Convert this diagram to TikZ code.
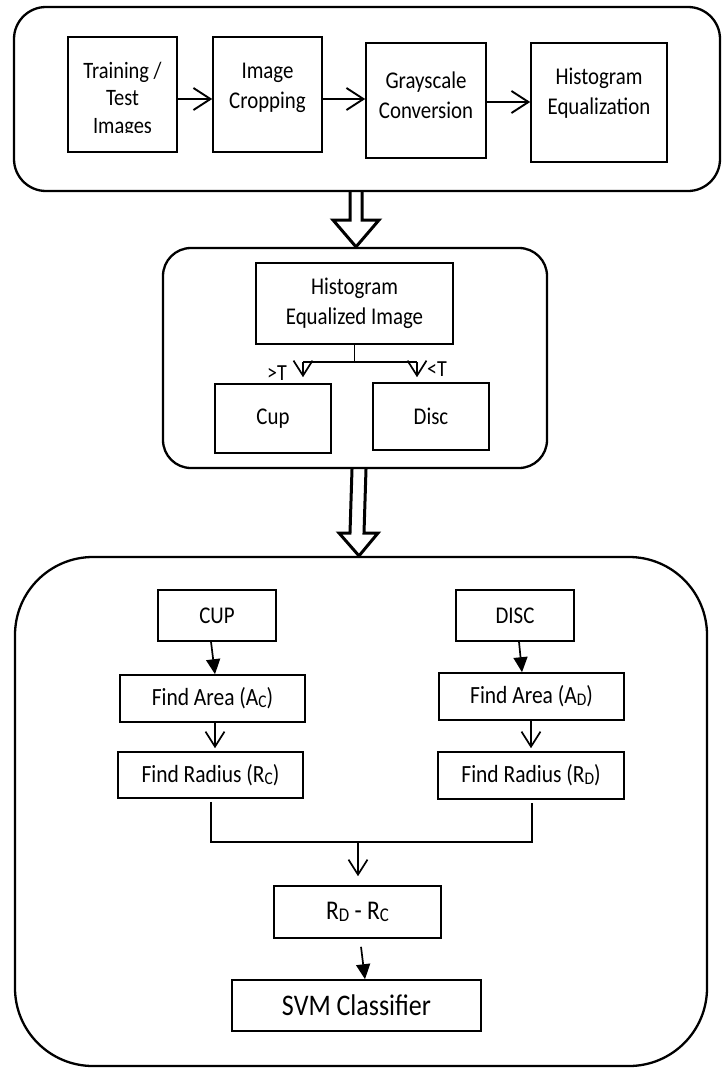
\documentclass[tikz,border=0pt]{standalone}
\usepackage{fontspec}
\setmainfont{Carlito}[FakeStretch=0.87]
\usepackage{graphicx}
\usetikzlibrary{arrows.meta,backgrounds}
\newcommand{\lsub}[1]{\raisebox{-0.08em}{\scalebox{0.72}{#1}}}
\begin{document}
\begin{tikzpicture}[x=1pt,y=-1pt,
  every node/.style={font=\fontsize{24}{30}\selectfont, inner sep=0pt},
  cont/.style={draw, line width=2.3pt},
  box/.style={draw, line width=1.6pt},
  conn/.style={line width=1.7pt},
  openbig/.style={line width=1.9pt, -{Straight Barb[length=17pt,width=22pt,line width=1.9pt]}},
  openv/.style={line width=1.7pt, -{Straight Barb[length=15pt,width=19pt,line width=1.7pt]}},
  filled/.style={line width=1.7pt, -{Triangle[length=15pt,width=14pt]}},
  hollow/.style={draw, line width=3pt, fill=white, line join=miter}]
\useasboundingbox (0,0) rectangle (723,1068);

% containers
\node[cont, rounded corners=32pt, minimum width=706pt, minimum height=184pt] (top) at (367,99) {};
\node[cont, rounded corners=28pt, minimum width=384pt, minimum height=220pt] (mid) at (355,358) {};
\node[cont, rounded corners=78pt, minimum width=692pt, minimum height=509pt] (bot) at (361,811.5) {};

% top row
\node[box, minimum width=109pt, minimum height=115pt] (b1) at (122.5,94.5) {};
\node[box, minimum width=109pt, minimum height=115pt] (b2) at (267.5,94.5) {};
\node[box, minimum width=120pt, minimum height=115pt] (b3) at (426,100.5) {};
\node[box, minimum width=136pt, minimum height=119pt] (b4) at (599,102.5) {};
\begin{scope}
\clip (68,37) rectangle (177,132.8);
\node[align=center, font=\fontsize{23.5}{27.5}\selectfont] (t1) at (122.5,99.5) {Training /\\Test\\Images};
\end{scope}
\node[align=center] (t2) at (267.5,88) {Image\\Cropping};
\node[align=center] (t3) at (426,95) {Grayscale\\Conversion};
\node[align=center] (t4) at (599,93) {Histogram\\Equalization};

\draw[openbig] (b1.east |- 0,99) -- (b2.west |- 0,99);
\draw[openbig] (b2.east |- 0,99) -- (b3.west |- 0,99);
\draw[openbig] (b3.east |- 0,102) -- (b4.west |- 0,102);

% middle
\node[box, minimum width=197pt, minimum height=81pt, align=center] (hei) at (354.5,303.5) {Histogram\\Equalized Image};
\node[box, minimum width=116pt, minimum height=69pt] (cup) at (273,418.5) {Cup};
\node[box, minimum width=116pt, minimum height=67pt] (disc) at (431,416.5) {Disc};
\coordinate (sj) at (hei.south |- 0,362);
\coordinate (sl) at (303,362);
\coordinate (sr) at (417,362);
\draw[conn] (hei.south) -- (sj);
\draw[conn] (sl) -- (sr);
\draw[openv, shorten >=6pt] (sl) -- (cup.north -| sl);
\draw[openv, shorten >=5pt] (sr) -- (disc.north -| sr);
\node[font=\fontsize{23}{26}\selectfont] (gt) at (277,373) {>T};
\node[font=\fontsize{23}{26}\selectfont] (lt) at (437,369) {<T};

% bottom
\node[box, minimum width=118pt, minimum height=51pt] (cupb) at (217,615.5) {CUP};
\node[box, minimum width=118pt, minimum height=51pt] (discb) at (515,615.5) {DISC};
\node[box, minimum width=185pt, minimum height=47pt, font=\fontsize{24.7}{28}\selectfont] (areac) at (212.5,698.5) {Find Area (A\lsub{C})};
\node[box, minimum width=185pt, minimum height=47pt, font=\fontsize{24.7}{28}\selectfont] (aread) at (531.5,696.5) {Find Area (A\lsub{D})};
\node[box, minimum width=185pt, minimum height=46pt, font=\fontsize{24.7}{28}\selectfont] (radc) at (210.5,775) {Find Radius (R\lsub{C})};
\node[box, minimum width=186pt, minimum height=47pt, font=\fontsize{24.7}{28}\selectfont] (radd) at (531,775.5) {Find Radius (R\lsub{D})};
\node[box, minimum width=167pt, minimum height=52pt, font=\fontsize{27}{30}\selectfont] (diff) at (357.5,912) {R\lsub{D} - R\lsub{C}};
\node[box, minimum width=249pt, minimum height=51pt, font=\fontsize{29.9}{34}\selectfont] (svm) at (356.5,1005.5) {SVM Classifier};

\draw[filled] (cupb.south -| 211,0) -- (areac.north -| 215,0);
\draw[filled] (discb.south -| 519,0) -- (aread.north -| 522,0);
\draw[openv] (areac.south -| 215,0) -- ([yshift=3pt]radc.north -| 215,0);
\draw[openv] (aread.south -| 531,0) -- ([yshift=3pt]radd.north -| 531,0);
\coordinate (mj) at (358,842);
\draw[conn] ([yshift=-3pt]radc.south -| 211,0) -- (211,842) -- (532,842) -- ([yshift=-3pt]radd.south -| 532,0);
\draw[openv, shorten >=9pt] (mj) -- (diff.north -| mj);
\draw[filled] ([yshift=-8pt]diff.south -| 361,0) -- (svm.north -| 365,0);

% hollow block arrows
\begin{scope}[on background layer]
\draw[hollow] (350,0 |- top.south) -- (350,220) -- (333,220) -- (356,0 |- mid.north) -- (379,220) -- (362,220) -- (362,0 |- top.south);
\draw[hollow] (352,0 |- mid.south) -- (350,533) -- (339,533) -- (359,0 |- bot.north) -- (378,533) -- (364,533) -- (366,0 |- mid.south);
\end{scope}
\end{tikzpicture}
\end{document}
